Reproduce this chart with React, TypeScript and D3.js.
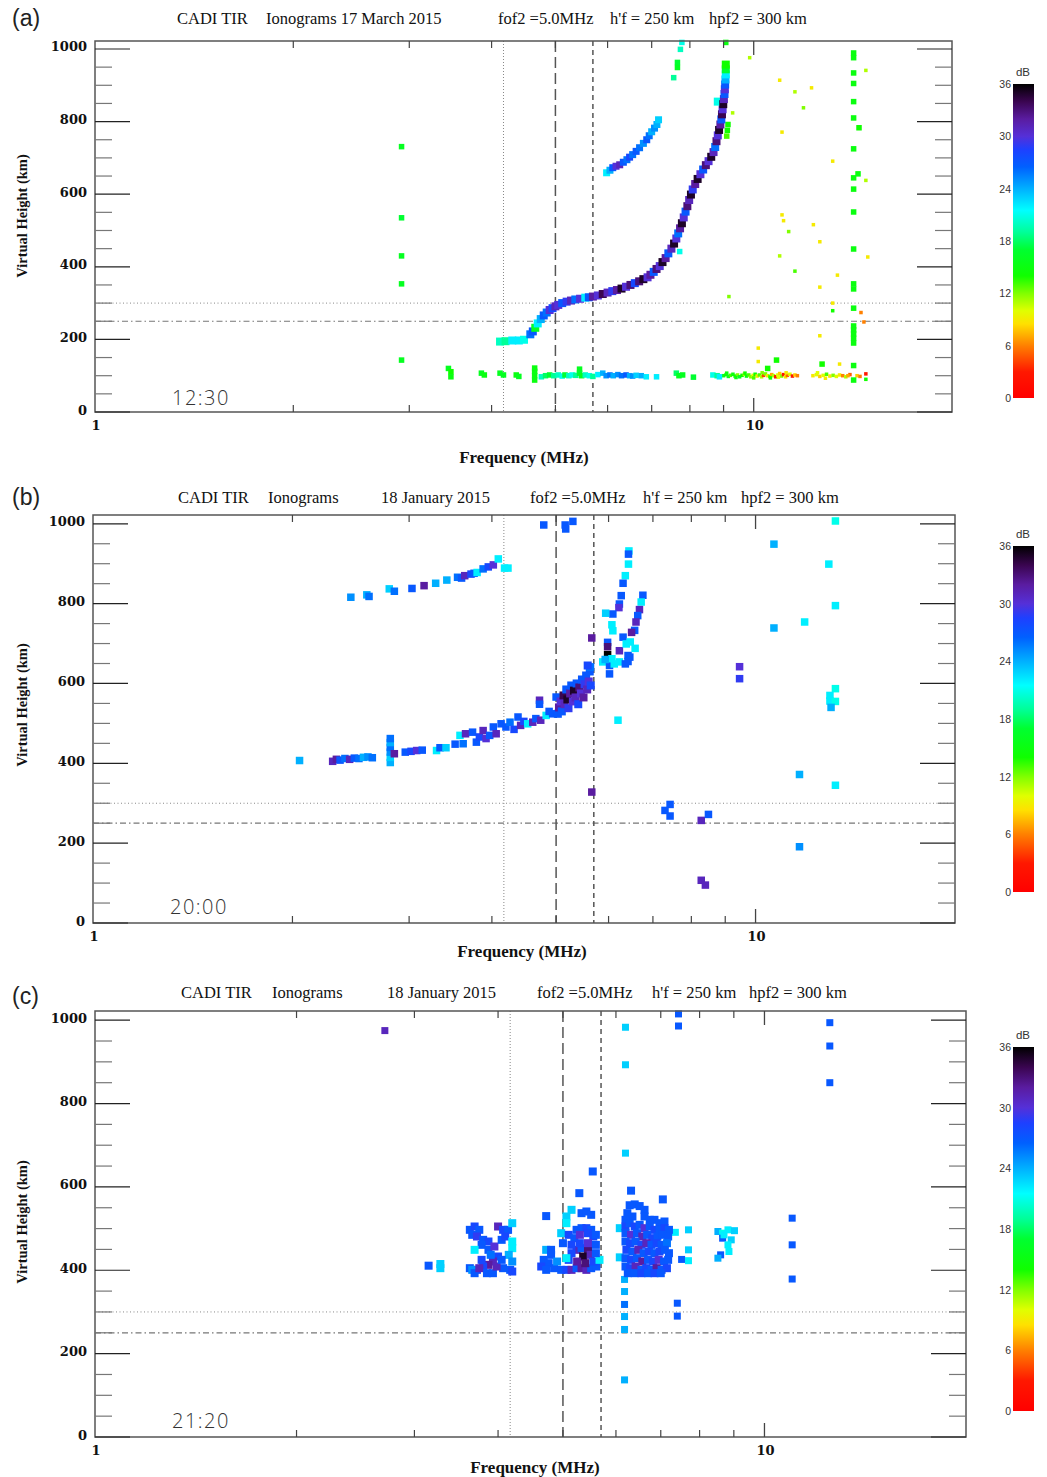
import React from "react";
import * as d3 from "d3";

type Pt = [number, number, number]; // [frequency MHz, virtual height km, amplitude dB]

// ---------- colour scale (dB) ----------
const CB_STOPS_DB = [0, 3, 6, 8.5, 10, 12, 14, 17, 19, 21.5, 24, 26.5, 28.5, 30, 32, 34, 36];
const CB_STOPS_COL = ["#ff0000", "#ff1800", "#ff8000", "#ffe000", "#e0ff00", "#80ff00", "#10ff00", "#00ff30", "#00ff98", "#00ffff", "#00b0ff", "#0060ff", "#1e40ff", "#5530d8", "#5a1ca0", "#3a0550", "#000000"];
const CB_TICKS = [0, 6, 12, 18, 24, 30, 36];

// ---------- axes ----------
const Y_MAJOR = [0, 200, 400, 600, 800, 1000];
const Y_MINOR = [50, 100, 150, 250, 300, 350, 450, 500, 550, 650, 700, 750, 850, 900, 950];
const X_MINOR = [2, 3, 4, 5, 6, 7, 8, 9];
const X_MAJOR = [10];
const X_LABELS = [1, 10];
const REF_FREQ_DOTTED = 4.17;
const REF_FOF2 = 5.0;
const REF_FX = 5.7;
const REF_HPF2 = 300;
const REF_HF = 250;

const TITLE_A = ["CADI TIR", "Ionograms 17 March 2015", "fof2 =5.0MHz", "h'f = 250 km", "hpf2 = 300 km"];
const TITLE_BC = ["CADI TIR", "Ionograms", "18 January 2015", "fof2 =5.0MHz", "h'f = 250 km", "hpf2 = 300 km"];
const TIMES = ["12:30", "20:00", "21:20"];
const PANEL_TAGS = ["(a)", "(b)", "(c)"];

// ---------- Panel (a) 17 March 2015 12:30 ----------
const A_O_TRACE: Pt[] = [
  [4.12, 194, 20], [4.2, 195, 19], [4.3, 197, 22], [4.4, 197, 22], [4.48, 199, 21],
  [4.58, 214, 26], [4.62, 222, 27], [4.66, 232, 16], [4.7, 244, 22], [4.75, 256, 24], [4.8, 266, 27],
  [4.85, 274, 26], [4.9, 281, 30], [4.95, 286, 28], [5.0, 291, 31], [5.05, 295, 30], [5.12, 300, 27],
  [5.2, 304, 29], [5.28, 307, 31], [5.36, 310, 26], [5.45, 312, 30], [5.55, 315, 22], [5.62, 316, 27],
  [5.7, 318, 32], [5.8, 321, 30], [5.9, 325, 34], [6.0, 329, 31], [6.1, 333, 29], [6.2, 336, 32],
  [6.3, 340, 35], [6.4, 345, 30], [6.5, 350, 33], [6.6, 355, 28], [6.7, 360, 33], [6.8, 366, 35],
  [6.9, 371, 30], [6.97, 378, 32], [7.05, 386, 27], [7.12, 394, 33], [7.2, 402, 30], [7.27, 413, 35],
  [7.35, 424, 32], [7.42, 437, 27], [7.5, 450, 31], [7.57, 464, 35], [7.63, 478, 30], [7.68, 492, 26],
  [7.73, 506, 32], [7.78, 520, 35], [7.83, 536, 30], [7.88, 552, 27], [7.93, 567, 33], [7.98, 584, 31],
  [8.03, 599, 35], [8.08, 613, 29], [8.15, 628, 32], [8.22, 642, 35], [8.3, 655, 30], [8.38, 668, 27],
  [8.46, 680, 33], [8.54, 691, 30], [8.62, 703, 35], [8.69, 716, 31], [8.74, 730, 26], [8.78, 746, 33],
  [8.82, 762, 30], [8.86, 777, 35], [8.9, 792, 32], [8.93, 806, 27], [8.95, 820, 34], [8.97, 834, 30],
  [8.82, 855, 21], [8.99, 848, 35], [9.01, 862, 31], [9.03, 876, 27], [9.04, 889, 30], [9.05, 902, 27],
  [9.06, 916, 24], [9.07, 930, 22], [9.07, 944, 17], [9.07, 957, 14],
];
const A_X_TRACE: Pt[] = [
  [5.98, 659, 22], [6.05, 666, 24], [6.11, 673, 27], [6.18, 677, 30], [6.26, 681, 31], [6.34, 688, 27],
  [6.42, 695, 26], [6.48, 702, 28], [6.55, 709, 26], [6.63, 718, 27], [6.71, 728, 26], [6.8, 740, 25],
  [6.88, 750, 27], [6.94, 761, 26], [7.0, 772, 24], [7.07, 782, 25], [7.13, 792, 24], [7.17, 805, 23],
];
const A_ECHOES_MEDIUM: Pt[] = [
  [7.78, 1018, 21], [7.74, 999, 20], [7.66, 963, 17], [7.66, 949, 16], [7.56, 921, 19], [9.07, 1018, 15],
  [2.92, 731, 16], [2.92, 535, 17], [2.92, 430, 16], [2.92, 353, 16], [2.92, 143, 16],
  [14.18, 989, 15], [14.18, 976, 15], [14.18, 934, 15], [14.18, 905, 15], [14.18, 855, 15], [14.18, 810, 15],
  [14.45, 783, 14], [14.18, 725, 15], [14.4, 656, 15], [14.18, 645, 15], [14.18, 614, 15], [14.18, 551, 15],
  [14.18, 449, 15], [14.18, 353, 15], [14.18, 339, 15], [14.18, 286, 15], [14.18, 237, 15], [14.18, 226, 15],
  [14.18, 215, 15], [14.18, 203, 15], [14.18, 190, 15], [14.18, 128, 15], [14.18, 88, 15],
  [9.14, 792, 14], [9.12, 776, 14], [9.1, 760, 13], [7.72, 442, 21],
  [3.44, 120, 16], [3.47, 111, 14], [3.47, 97, 15], [3.86, 107, 16], [3.9, 102, 15], [4.12, 107, 16],
  [4.17, 102, 16], [4.36, 102, 15], [4.4, 98, 16], [4.65, 88, 15], [4.65, 100, 15], [4.65, 112, 15],
  [4.65, 121, 15], [4.76, 97, 20], [4.83, 100, 18], [4.9, 102, 17], [4.97, 100, 19], [5.05, 102, 20],
  [5.12, 99, 21], [5.17, 102, 17], [5.24, 100, 20], [5.3, 102, 21], [5.37, 101, 19], [5.44, 118, 16],
  [5.44, 107, 17], [5.48, 100, 16], [5.55, 102, 20], [5.63, 100, 21], [5.7, 98, 19], [5.8, 103, 22],
  [5.9, 107, 24], [5.97, 100, 25], [6.05, 102, 26], [6.12, 100, 24], [6.22, 103, 25], [6.3, 100, 26],
  [6.4, 102, 27], [6.48, 100, 24], [6.55, 99, 25], [6.63, 101, 23], [6.75, 100, 24], [6.87, 97, 22],
  [7.12, 97, 22], [7.63, 107, 18], [7.7, 100, 16], [7.8, 102, 16], [8.1, 96, 17], [8.67, 102, 21],
  [8.8, 100, 19], [8.87, 97, 22], [10.5, 120, 14], [10.83, 143, 14], [12.7, 132, 14],
];
const A_ECHOES_SMALL: Pt[] = [
  [9.29, 824, 11], [9.86, 976, 11], [14.8, 941, 11], [10.95, 914, 9], [11.55, 882, 11], [12.24, 893, 9],
  [11.9, 838, 12], [11.04, 771, 9], [13.18, 691, 9], [14.8, 638, 11], [11.04, 543, 9], [11.1, 527, 9],
  [11.3, 497, 12], [12.32, 516, 9], [12.6, 469, 9], [10.95, 430, 11], [14.9, 427, 9], [11.55, 388, 13],
  [13.4, 377, 9], [12.6, 344, 9], [9.17, 318, 12], [13.18, 300, 9], [13.18, 279, 14], [14.55, 274, 6],
  [14.7, 248, 6], [12.6, 210, 9], [10.16, 176, 9], [10.16, 139, 9], [13.5, 132, 9],
  [9.0, 100, 15], [9.08, 103, 14], [9.15, 98, 16], [9.22, 101, 13], [9.3, 104, 15], [9.37, 99, 14],
  [9.45, 102, 12], [9.52, 97, 16], [9.6, 101, 14], [9.68, 104, 11], [9.75, 99, 15], [9.83, 102, 13],
  [9.9, 97, 12], [9.98, 101, 10], [10.05, 104, 14], [10.12, 99, 9], [10.2, 102, 13], [10.28, 97, 11],
  [10.35, 101, 4], [10.42, 105, 12], [10.5, 100, 9], [10.58, 98, 13], [10.65, 103, 7], [10.72, 100, 11],
  [10.8, 97, 3], [10.88, 102, 10], [10.95, 106, 8], [11.02, 99, 12], [11.1, 103, 2], [11.18, 97, 9],
  [11.25, 101, 5], [11.35, 104, 10], [11.45, 99, 3], [11.55, 102, 8], [11.65, 100, 6],
  [9.1, 107, 15], [9.4, 95, 15], [9.7, 107, 14], [10.0, 94, 13], [10.3, 108, 12], [10.6, 94, 14],
  [10.9, 96, 10], [11.2, 108, 9],
  [12.3, 100, 9], [12.45, 103, 10], [12.6, 98, 8], [12.75, 101, 10], [12.9, 104, 13], [13.05, 99, 9],
  [13.2, 101, 12], [13.35, 98, 10], [13.5, 102, 9], [13.65, 100, 6], [13.8, 97, 11], [14.0, 103, 5],
  [14.35, 100, 8], [14.8, 105, 3], [14.8, 90, 14], [12.5, 108, 10], [12.85, 93, 9], [13.9, 100, 7], [14.5, 98, 6],
];

// ---------- Panel (b) 18 January 2015 20:00 ----------
const B_UPPER_ARC: Pt[] = [
  [2.45, 816, 25], [2.59, 822, 24], [2.61, 818, 26], [2.8, 837, 23], [2.85, 831, 26], [3.03, 838, 27],
  [3.16, 845, 32], [3.29, 851, 24], [3.42, 859, 24], [3.55, 866, 26], [3.6, 864, 27], [3.64, 870, 31],
  [3.72, 874, 28], [3.76, 876, 27], [3.8, 878, 22], [3.88, 887, 26], [3.95, 892, 28], [4.02, 897, 30],
  [4.09, 912, 22], [4.18, 889, 22], [4.23, 889, 22],
];
const B_MAIN_TRACE: Pt[] = [
  [2.05, 407, 24], [2.3, 405, 31], [2.33, 410, 32], [2.36, 408, 27], [2.4, 412, 26], [2.44, 410, 31],
  [2.48, 413, 27], [2.52, 412, 26], [2.56, 415, 24], [2.6, 416, 25], [2.64, 414, 26],
  [2.81, 402, 24], [2.81, 415, 23], [2.81, 428, 25], [2.81, 440, 26], [2.81, 452, 24], [2.81, 462, 26],
  [2.85, 424, 32], [2.96, 428, 27], [3.02, 430, 28], [3.08, 432, 30], [3.14, 433, 27], [3.3, 432, 22],
  [3.34, 439, 27], [3.41, 439, 23], [3.52, 448, 27], [3.58, 470, 22], [3.62, 449, 26], [3.65, 474, 31],
  [3.74, 478, 27], [3.79, 453, 27], [3.83, 466, 28], [3.88, 482, 31], [3.92, 462, 30], [3.97, 470, 27],
  [4.02, 491, 27], [4.06, 474, 31], [4.13, 499, 27], [4.2, 491, 27], [4.26, 503, 26], [4.32, 485, 28],
  [4.38, 516, 27], [4.42, 495, 31], [4.47, 505, 28], [4.53, 499, 22], [4.61, 503, 31], [4.66, 512, 27],
  [4.72, 558, 31], [4.72, 548, 27], [4.74, 508, 31], [4.83, 520, 22], [4.88, 530, 27], [4.94, 524, 27],
  [5.0, 566, 27],
];
const B_CUSP: Pt[] = [
  [5.03, 524, 27], [5.05, 540, 32], [5.08, 555, 30], [5.1, 530, 27], [5.13, 570, 34], [5.15, 548, 31],
  [5.18, 585, 27], [5.2, 560, 35], [5.22, 538, 29], [5.25, 575, 32], [5.27, 595, 27], [5.3, 555, 30],
  [5.32, 582, 35], [5.35, 565, 31], [5.37, 600, 27], [5.4, 548, 28], [5.42, 590, 33], [5.45, 575, 30],
  [5.47, 610, 27], [5.5, 565, 32], [5.52, 598, 29], [5.55, 620, 27], [5.57, 585, 31], [5.6, 605, 30],
  [5.62, 630, 27], [5.64, 595, 28], [5.63, 641, 26], [5.58, 645, 28],
];
const B_BRANCHES: Pt[] = [
  [6.44, 932, 22], [6.43, 924, 27], [6.43, 899, 22], [6.36, 870, 22], [6.31, 851, 27], [6.27, 820, 27],
  [6.23, 799, 27], [6.22, 790, 30], [6.09, 774, 27], [5.94, 776, 23], [6.07, 747, 22], [6.09, 732, 22],
  [5.98, 703, 27], [5.98, 692, 33], [5.98, 672, 36], [5.88, 654, 22], [6.02, 645, 27], [6.02, 624, 27],
  [6.12, 649, 22], [6.23, 682, 31], [6.23, 654, 22], [6.31, 716, 27], [6.38, 699, 22], [6.42, 670, 27],
  [6.36, 649, 27], [6.58, 688, 22], [6.07, 662, 22], [5.93, 660, 24],
  [6.76, 821, 27], [6.72, 804, 22], [6.68, 785, 31], [6.64, 770, 27], [6.6, 754, 31], [6.57, 733, 27],
  [6.5, 728, 32], [6.47, 704, 22], [6.46, 666, 27], [6.42, 655, 27],
];
const B_SCATTER: Pt[] = [
  [5.66, 714, 32], [5.66, 328, 32], [6.2, 508, 22],
  [4.79, 997, 27], [5.16, 997, 27], [5.17, 987, 27], [5.3, 1006, 27],
  [9.46, 642, 30], [9.46, 612, 29], [10.66, 949, 24], [10.66, 739, 24], [11.86, 754, 22],
  [12.9, 899, 22], [13.2, 1007, 21], [13.2, 795, 22], [13.2, 587, 21], [12.95, 570, 22], [12.95, 556, 22],
  [13.2, 555, 21], [13.0, 540, 24], [13.2, 345, 22], [11.65, 372, 24], [11.65, 191, 25],
  [7.43, 297, 27], [7.3, 282, 27], [7.43, 268, 27], [8.28, 257, 31], [8.49, 272, 27], [8.28, 107, 31], [8.4, 95, 31],
];

// ---------- Panel (c) 18 January 2015 21:20 ----------
const C_CLUSTER_1: Pt[] = [
  [3.15, 411, 27], [3.28, 415, 23], [3.28, 405, 23],
  [3.63, 497, 27], [3.69, 505, 28], [3.75, 497, 27], [3.66, 485, 27], [3.72, 481, 29], [3.8, 473, 27],
  [3.87, 469, 28], [3.78, 461, 27], [3.69, 449, 22], [3.87, 449, 27], [3.95, 457, 30], [4.0, 505, 31],
  [4.07, 497, 28], [4.14, 497, 27], [4.2, 513, 23], [4.05, 473, 27], [4.1, 481, 28], [4.2, 469, 22],
  [4.2, 453, 22], [4.15, 437, 24], [4.2, 421, 25], [4.0, 433, 28], [3.93, 421, 31], [3.87, 413, 32],
  [3.8, 409, 28], [3.72, 401, 28], [3.63, 405, 27], [3.66, 401, 25], [3.69, 393, 27], [3.75, 405, 31],
  [3.85, 393, 27], [3.93, 393, 27], [4.07, 405, 27], [4.17, 401, 27], [4.2, 397, 28], [3.98, 409, 31],
  [4.05, 425, 27], [3.9, 437, 26], [3.78, 425, 28],
];
const C_CLUSTER_2: Pt[] = [
  [4.72, 530, 27], [5.15, 545, 23], [5.29, 585, 27], [5.54, 637, 27], [5.06, 529, 23], [5.06, 513, 22],
  [5.33, 537, 27], [5.42, 541, 27], [5.51, 533, 27], [5.24, 497, 27], [5.33, 501, 27], [5.42, 501, 28],
  [5.51, 497, 27], [4.97, 489, 23], [5.1, 485, 28], [5.2, 477, 27], [5.3, 485, 30], [5.45, 489, 28],
  [5.55, 481, 28], [4.72, 449, 24], [4.8, 449, 27], [4.8, 437, 27], [4.68, 425, 27], [4.76, 417, 27],
  [4.64, 409, 28], [4.72, 401, 27], [4.85, 405, 27], [4.97, 401, 27], [5.06, 401, 28], [5.15, 401, 31],
  [5.24, 405, 27], [5.33, 405, 32], [5.42, 401, 31], [5.51, 405, 27], [5.61, 409, 27], [5.24, 449, 31],
  [5.33, 453, 27], [5.45, 449, 33], [5.15, 441, 28], [5.36, 433, 35], [5.5, 437, 31], [5.1, 425, 28],
  [5.25, 421, 32], [5.4, 417, 33], [5.55, 421, 28], [5.67, 425, 22], [5.0, 465, 27], [5.15, 461, 28],
  [5.3, 465, 28], [5.45, 465, 30], [5.6, 461, 27], [5.06, 429, 22], [4.9, 421, 25], [5.6, 441, 27], [5.6, 485, 27],
];
const C_CLUSTER_3: Pt[] = [
  [6.32, 591, 27], [7.05, 570, 27], [6.08, 501, 23], [6.08, 431, 23],
  [6.29, 556, 27], [6.4, 558, 27], [6.51, 554, 27], [6.62, 545, 27], [6.24, 537, 27], [6.35, 529, 27],
  [6.62, 529, 27], [6.74, 521, 27], [6.85, 521, 27], [6.97, 513, 27], [7.09, 517, 27], [6.2, 521, 27],
  [6.2, 505, 28], [6.29, 513, 27], [6.4, 505, 28], [6.51, 509, 27], [6.62, 501, 30], [6.74, 505, 27],
  [6.85, 497, 28], [6.97, 497, 27], [7.09, 501, 28], [7.2, 497, 27], [6.2, 489, 27], [6.32, 485, 30],
  [6.45, 489, 27], [6.57, 481, 31], [6.68, 485, 27], [6.8, 477, 28], [6.92, 481, 27], [7.05, 485, 27],
  [7.18, 481, 27], [6.2, 469, 27], [6.3, 465, 28], [6.42, 469, 27], [6.55, 461, 28], [6.66, 465, 31],
  [6.78, 461, 27], [6.9, 465, 28], [7.02, 461, 27], [7.15, 465, 26], [6.22, 449, 28], [6.35, 445, 27],
  [6.48, 449, 31], [6.6, 441, 27], [6.72, 445, 28], [6.85, 441, 27], [6.97, 445, 28], [7.1, 449, 27],
  [7.2, 441, 27], [6.2, 429, 27], [6.32, 425, 28], [6.45, 429, 27], [6.57, 421, 32], [6.7, 425, 27],
  [6.82, 421, 28], [6.95, 425, 30], [7.08, 421, 27], [7.18, 425, 27], [6.2, 409, 27], [6.3, 405, 28],
  [6.42, 409, 31], [6.55, 401, 27], [6.66, 405, 28], [6.78, 401, 27], [6.9, 405, 32], [7.02, 401, 27],
  [7.15, 405, 28], [6.25, 393, 27], [6.4, 393, 27], [6.55, 393, 28], [6.7, 393, 27], [6.85, 393, 28], [7.0, 393, 27],
];
const C_SCATTER: Pt[] = [
  [2.71, 975, 31], [6.2, 983, 23], [6.2, 893, 23], [6.2, 681, 23], [7.44, 1015, 27], [7.44, 986, 27],
  [12.52, 994, 27], [12.52, 938, 27], [12.52, 850, 27],
  [7.36, 491, 22], [7.52, 426, 27], [7.7, 497, 23], [7.7, 449, 23], [7.7, 423, 22],
  [6.18, 378, 24], [6.18, 349, 24], [6.18, 318, 26], [6.18, 289, 24], [6.18, 258, 24], [6.18, 137, 24],
  [7.41, 321, 27], [7.41, 290, 27],
  [8.52, 493, 24], [8.66, 489, 21], [8.82, 497, 22], [9.02, 495, 23], [8.92, 473, 23], [8.66, 477, 27],
  [8.82, 461, 22], [8.85, 445, 22], [8.6, 437, 27], [8.52, 429, 24], [8.7, 485, 22],
  [11.0, 525, 27], [11.0, 461, 27], [11.0, 379, 27],
];

const dbColor = d3
  .scaleLinear<string>()
  .domain(CB_STOPS_DB)
  .range(CB_STOPS_COL)
  .interpolate(d3.interpolateRgb)
  .clamp(true);

type Group = { data: Pt[]; size: number };
type PanelCfg = {
  id: string;
  left: number; right: number; top: number; bottom: number;
  cbTop: number; cbBottom: number;
  title: string[]; titleX: number[]; titleY: number;
  tag: string; tagY: number;
  time: string; timeY: number;
  yTitleY: number; xTitleX: number; xTitleY: number;
  groups: Group[];
};

const SERIF = "'Liberation Serif', 'DejaVu Serif', serif";
const TICK_SERIF = "'DejaVu Serif', 'Liberation Serif', serif";
const SANS = "'Liberation Sans', Arial, sans-serif";

function Panel({ c }: { c: PanelCfg }) {
  const x = d3.scaleLog().domain([1, 20]).range([c.left, c.right]);
  const y = d3.scaleLinear().domain([0, 1022]).range([c.bottom, c.top]);
  const cb = d3.scaleLinear().domain([0, 36]).range([c.cbBottom, c.cbTop]);
  const gradId = "grad-" + c.id;
  const cbX = 1013, cbW = 21;
  return (
    <g>
      <defs>
        <linearGradient id={gradId} x1="0" y1="1" x2="0" y2="0">
          {CB_STOPS_DB.map((d, i) => (
            <stop key={i} offset={d / 36} stopColor={CB_STOPS_COL[i]} />
          ))}
        </linearGradient>
      </defs>
      {/* panel tag */}
      <text x={12} y={c.tagY} fontFamily={SANS} fontSize={23} dominantBaseline="central" fill="#222">{c.tag}</text>
      {/* title */}
      {c.title.map((t, i) => (
        <text key={i} x={c.titleX[i]} y={c.titleY} fontFamily={SERIF} fontSize={16.5} fill="#111">{t}</text>
      ))}
      {/* reference lines */}
      <line x1={c.left} x2={c.right} y1={y(REF_HPF2)} y2={y(REF_HPF2)} stroke="#888" strokeWidth={1} strokeDasharray="1,2.5" />
      <line x1={c.left} x2={c.right} y1={y(REF_HF)} y2={y(REF_HF)} stroke="#777" strokeWidth={1.2} strokeDasharray="6,3,1.5,3" />
      <line x1={x(REF_FREQ_DOTTED)} x2={x(REF_FREQ_DOTTED)} y1={c.top} y2={c.bottom} stroke="#888" strokeWidth={1} strokeDasharray="1,2" />
      <line x1={x(REF_FOF2)} x2={x(REF_FOF2)} y1={c.top} y2={c.bottom} stroke="#555" strokeWidth={1.5} strokeDasharray="11,5" />
      <line x1={x(REF_FX)} x2={x(REF_FX)} y1={c.top} y2={c.bottom} stroke="#555" strokeWidth={1.5} strokeDasharray="5,4" />
      {/* echoes */}
      {c.groups.map((g, gi) => (
        <g key={gi}>
          {g.data.map((p, i) => (
            <rect key={i} x={x(p[0]) - g.size / 2} y={y(p[1]) - g.size / 2} width={g.size} height={g.size} fill={dbColor(p[2])} />
          ))}
        </g>
      ))}
      {/* frame */}
      <rect x={c.left} y={c.top} width={c.right - c.left} height={c.bottom - c.top} fill="none" stroke="#555" strokeWidth={1.5} />
      {/* y ticks */}
      {Y_MAJOR.map((v) => (
        <g key={"ym" + v}>
          <line x1={c.left} x2={c.left + 35} y1={y(v)} y2={y(v)} stroke="#222" strokeWidth={1.2} />
          <line x1={c.right} x2={c.right - 35} y1={y(v)} y2={y(v)} stroke="#222" strokeWidth={1.2} />
          <text x={c.left - 8} y={y(v) - 2} textAnchor="end" dominantBaseline="central" fontFamily={TICK_SERIF} fontWeight="bold" fontSize={13} fill="#111">{v}</text>
        </g>
      ))}
      {Y_MINOR.map((v) => (
        <g key={"yn" + v}>
          <line x1={c.left} x2={c.left + 17} y1={y(v)} y2={y(v)} stroke="#777" strokeWidth={1.2} />
          <line x1={c.right} x2={c.right - 17} y1={y(v)} y2={y(v)} stroke="#777" strokeWidth={1.2} />
        </g>
      ))}
      {/* x ticks */}
      {X_MINOR.map((v) => (
        <g key={"xm" + v}>
          <line x1={x(v)} x2={x(v)} y1={c.bottom} y2={c.bottom - 7} stroke="#444" strokeWidth={1.2} />
          <line x1={x(v)} x2={x(v)} y1={c.top} y2={c.top + 7} stroke="#444" strokeWidth={1.2} />
        </g>
      ))}
      {X_MAJOR.map((v) => (
        <g key={"xM" + v}>
          <line x1={x(v)} x2={x(v)} y1={c.bottom} y2={c.bottom - 14} stroke="#444" strokeWidth={1.3} />
          <line x1={x(v)} x2={x(v)} y1={c.top} y2={c.top + 14} stroke="#444" strokeWidth={1.3} />
        </g>
      ))}
      {X_LABELS.map((v) => (
        <text key={"xl" + v} x={x(v) + 1} y={c.bottom + 13} textAnchor="middle" dominantBaseline="central" fontFamily={TICK_SERIF} fontWeight="bold" fontSize={13} fill="#111">{v}</text>
      ))}
      {/* axis titles */}
      <text transform={`translate(27,${c.yTitleY}) rotate(-90)`} textAnchor="middle" fontFamily={SERIF} fontWeight="bold" fontSize={14.5} fill="#111">Virtual Height (km)</text>
      <text x={c.xTitleX} y={c.xTitleY} textAnchor="middle" dominantBaseline="central" fontFamily={SERIF} fontWeight="bold" fontSize={17} fill="#111">Frequency (MHz)</text>
      {/* time */}
      <text x={c.left + 77} y={c.timeY} dominantBaseline="central" fontFamily="'Open Sans', 'DejaVu Sans', sans-serif" fontWeight={300} fontSize={20} letterSpacing={1.5} fill="#333">{c.time}</text>
      {/* colorbar */}
      <rect x={cbX} y={c.cbTop} width={cbW} height={c.cbBottom - c.cbTop} fill={`url(#${gradId})`} />
      {CB_TICKS.map((v) => (
        <text key={"cb" + v} x={cbX - 2} y={cb(v)} textAnchor="end" dominantBaseline="central" fontFamily={SANS} fontSize={10.5} fill="#333">{v}</text>
      ))}
      <text x={cbX + 10} y={c.cbTop - 8} textAnchor="middle" fontFamily={SANS} fontSize={11.5} fill="#333">dB</text>
    </g>
  );
}

const PANELS: PanelCfg[] = [
  {
    id: "a", left: 95, right: 952, top: 41, bottom: 412, cbTop: 84, cbBottom: 398,
    title: TITLE_A, titleX: [177, 266, 498, 610, 709], titleY: 24,
    tag: PANEL_TAGS[0], tagY: 18, time: TIMES[0], timeY: 397,
    yTitleY: 216, xTitleX: 524, xTitleY: 457,
    groups: [
      { data: A_ECHOES_SMALL, size: 3.5 },
      { data: A_ECHOES_MEDIUM, size: 5.5 },
      { data: A_X_TRACE, size: 7 },
      { data: A_O_TRACE, size: 8 },
    ],
  },
  {
    id: "b", left: 93, right: 955, top: 515, bottom: 923, cbTop: 546, cbBottom: 892,
    title: TITLE_BC, titleX: [178, 268, 381, 530, 643, 741], titleY: 503,
    tag: PANEL_TAGS[1], tagY: 497, time: TIMES[1], timeY: 906,
    yTitleY: 705, xTitleX: 522, xTitleY: 951,
    groups: [
      { data: B_SCATTER, size: 7.5 },
      { data: B_UPPER_ARC, size: 7.5 },
      { data: B_MAIN_TRACE, size: 7.5 },
      { data: B_BRANCHES, size: 7.5 },
      { data: B_CUSP, size: 8 },
    ],
  },
  {
    id: "c", left: 95, right: 966, top: 1011, bottom: 1437, cbTop: 1047, cbBottom: 1411,
    title: TITLE_BC, titleX: [181, 272, 387, 537, 652, 749], titleY: 998,
    tag: PANEL_TAGS[2], tagY: 996, time: TIMES[2], timeY: 1420,
    yTitleY: 1222, xTitleX: 535, xTitleY: 1467,
    groups: [
      { data: C_SCATTER, size: 7 },
      { data: C_CLUSTER_1, size: 8 },
      { data: C_CLUSTER_2, size: 8 },
      { data: C_CLUSTER_3, size: 8 },
    ],
  },
];

export default function App() {
  return (
    <svg
      width={1047}
      height={1477}
      viewBox="0 0 1047 1477"
      style={{ position: "absolute", left: 0, top: 0, background: "#fff" }}
    >
      <rect x={0} y={0} width={1047} height={1477} fill="#fff" />
      {PANELS.map((p) => (
        <Panel key={p.id} c={p} />
      ))}
    </svg>
  );
}
